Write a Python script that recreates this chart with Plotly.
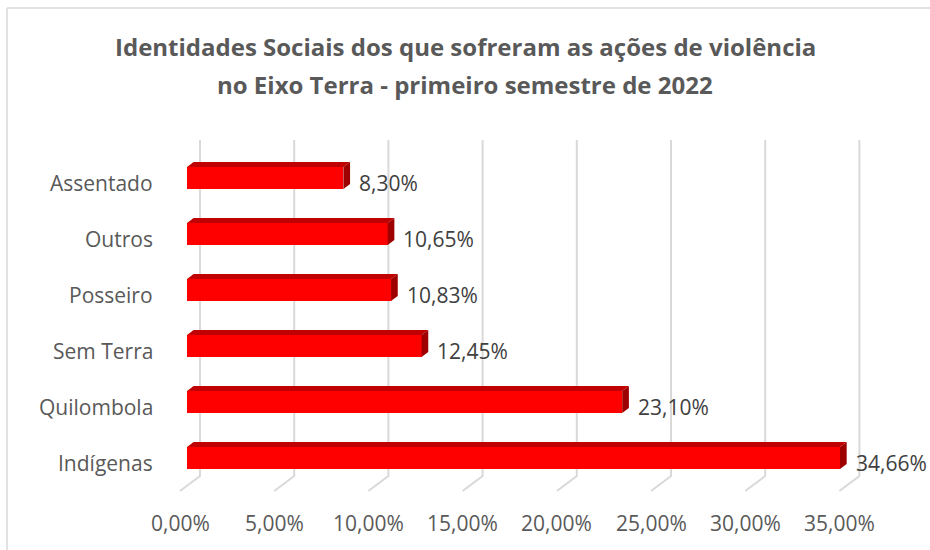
import plotly.graph_objects as go

# ---- data ----
categories = ["Indígenas", "Quilombola", "Sem Terra", "Posseiro", "Outros", "Assentado"]
values = [34.66, 23.10, 12.45, 10.83, 10.65, 8.30]
value_labels = ["34,66%", "23,10%", "12,45%", "10,83%", "10,65%", "8,30%"]
tick_values = [0, 5, 10, 15, 20, 25, 30, 35]
tick_labels = ["0,00%", "5,00%", "10,00%", "15,00%", "20,00%", "25,00%", "30,00%", "35,00%"]
title_lines = ["Identidades Sociais dos que sofreram as ações de violência",
               "no Eixo Terra - primeiro semestre de 2022"]

# ---- layout geometry (pixels) ----
W, H = 930, 550
ML, MR, MT, MB = 165, 0, 120, 58
PW, PH = W - ML - MR, H - MT - MB
X0_PX, X_SCALE = 187.0, 18.84      # front plane: pixel of 0% and px per 1%
Y0_PX, Y_STEP = 458.0, 56.0        # front centre of first category, px per category

x_range = [(ML - X0_PX) / X_SCALE, (ML + PW - X0_PX) / X_SCALE]
y_range = [(Y0_PX - (MT + PH)) / Y_STEP, (Y0_PX - MT) / Y_STEP]

def dx(px):
    return px / X_SCALE

def dy(px):
    return px / Y_STEP

def py_to_idx(py):
    return (Y0_PX - py) / Y_STEP

def paper_x(px):
    return (px - ML) / PW

def paper_y(py):
    return (MT + PH - py) / PH

BAR_W = dy(22)
DEPTH_X, DEPTH_Y = dx(6.7), dy(5)          # bar depth
BACK_X = dx(13)                            # back wall offset from bar front
FRONT_X = -dx(7)                           # floor front offset from bar front
GRID_TOP = py_to_idx(140)
GRID_BOT = py_to_idx(476)
FLOOR_FRONT = py_to_idx(491)

ypos = list(range(len(categories)))

fig = go.Figure()
fig.add_trace(go.Bar(
    x=values, y=ypos, orientation="h", width=BAR_W,
    marker=dict(color="#FF0000", line=dict(width=0)),
    hoverinfo="x+y", showlegend=False,
))

shapes = []
# gridlines: back wall verticals + slanted floor segments
for v in tick_values:
    shapes.append(dict(
        type="path", layer="below", xref="x", yref="y",
        path=f"M {v + BACK_X},{GRID_TOP} L {v + BACK_X},{GRID_BOT} L {v + FRONT_X},{FLOOR_FRONT}",
        line=dict(color="#D9D9D9", width=2),
    ))

# 3D faces of bars
for i, v in enumerate(values):
    top = i + BAR_W / 2
    bot = i - BAR_W / 2
    shapes.append(dict(
        type="path", layer="above", xref="x", yref="y",
        path=f"M 0,{top} L {DEPTH_X},{top + DEPTH_Y} L {v + DEPTH_X},{top + DEPTH_Y} L {v},{top} Z",
        fillcolor="#C00000", line=dict(width=0),
    ))
    shapes.append(dict(
        type="path", layer="above", xref="x", yref="y",
        path=f"M {v},{top} L {v + DEPTH_X},{top + DEPTH_Y} L {v + DEPTH_X},{bot + DEPTH_Y} L {v},{bot} Z",
        fillcolor="#9E0000", line=dict(width=0),
    ))

# chart border (top and left)
shapes.append(dict(type="line", xref="paper", yref="paper",
                   x0=paper_x(7), x1=paper_x(W), y0=paper_y(8), y1=paper_y(8),
                   line=dict(color="#D9D9D9", width=1.5)))
shapes.append(dict(type="line", xref="paper", yref="paper",
                   x0=paper_x(7), x1=paper_x(7), y0=paper_y(8), y1=paper_y(H),
                   line=dict(color="#D9D9D9", width=1.5)))

FONT = "Open Sans"
annotations = []
# data labels
for i, (v, lab) in enumerate(zip(values, value_labels)):
    annotations.append(dict(
        x=v + DEPTH_X + dx(7), y=i - dy(5), xref="x", yref="y",
        text=lab, showarrow=False, xanchor="left", yanchor="middle",
        font=dict(family=FONT, size=21, color="#404040"),
    ))
# category labels (paper x so they are not hidden outside the axis range)
for i, c in enumerate(categories):
    annotations.append(dict(
        x=paper_x(155), y=i - dy(5), xref="paper", yref="y",
        text=c, showarrow=False, xanchor="right", yanchor="middle",
        font=dict(family=FONT, size=21, color="#595959"),
    ))
# value-axis tick labels
for v, lab in zip(tick_values, tick_labels):
    annotations.append(dict(
        x=v + FRONT_X, y=paper_y(523), xref="x", yref="paper",
        text=lab, showarrow=False, xanchor="center", yanchor="middle",
        font=dict(family=FONT, size=21, color="#595959"),
    ))
# title
for line, ypx in zip(title_lines, [47, 84]):
    annotations.append(dict(
        x=paper_x(465), y=paper_y(ypx), xref="paper", yref="paper",
        text=f"<b>{line}</b>", showarrow=False, xanchor="center", yanchor="middle",
        font=dict(family=FONT, size=24, color="#595959"),
    ))

fig.update_layout(
    width=W, height=H,
    margin=dict(l=ML, r=MR, t=MT, b=MB, autoexpand=False),
    paper_bgcolor="white", plot_bgcolor="white",
    shapes=shapes, annotations=annotations,
    xaxis=dict(range=x_range, showgrid=False, zeroline=False, showticklabels=False,
               showline=False, fixedrange=True),
    yaxis=dict(range=y_range, showgrid=False, zeroline=False, showticklabels=False,
               showline=False, fixedrange=True),
    bargap=0,
)

fig.write_html("out.html", config={"displayModeBar": False},
               post_script="document.body.style.margin='0';document.body.style.overflow='hidden';")
